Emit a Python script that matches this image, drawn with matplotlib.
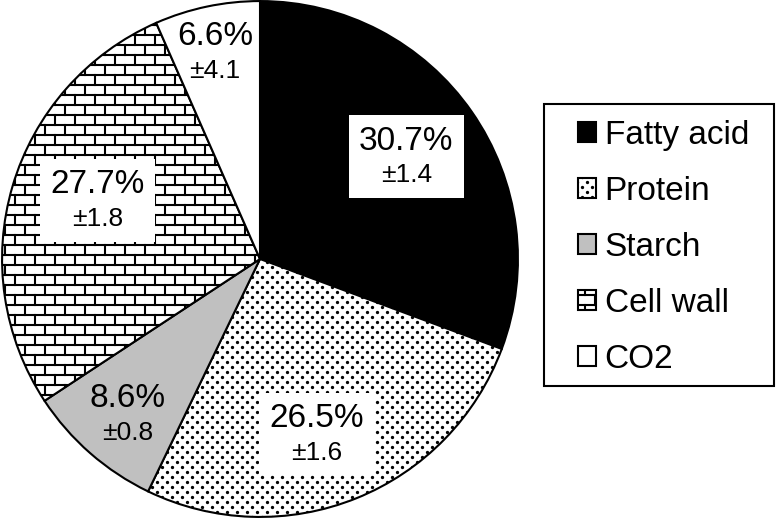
import warnings
import numpy as np
import matplotlib
matplotlib.use('Agg')
import matplotlib.pyplot as plt
import matplotlib.hatch as mhatch
from matplotlib.path import Path
from matplotlib.patches import Rectangle
from matplotlib.offsetbox import TextArea, VPacker, AnnotationBbox

warnings.filterwarnings('ignore')

Names     = ['Fatty acid', 'Protein', 'Starch', 'Cell wall', 'CO2']
Values    = [30.7, 26.5, 8.6, 27.7, 6.6]
Errors    = [1.4, 1.6, 0.8, 1.8, 4.1]
Colors    = ['black', 'white', '#c0c0c0', 'white', 'white']
Hatches   = [None, ':', None, 'B', None]

# label placement (radius as fraction, angle in degrees), white box or not
LabelR    = [0.693, 0.713, 0.79, 0.67, 0.82]
LabelAng  = [35, -72, -130.4, 160.2, 102.3]
LabelBox  = [True, True, False, True, False]


# brick pattern, 10 rows x 5 bricks per hatch tile
class BrickHatch(mhatch.HatchPatternBase):
	rows = 10
	cols = 5

	def __init__(self, hatch, density):
		on = hatch is not None and 'B' in hatch
		nseg = self.rows + self.rows*self.cols + self.cols
		self.num_vertices = 2*nseg if on else 0

	def set_vertices_and_codes(self, vertices, codes):
		h = 1.0/self.rows
		w = 1.0/self.cols
		segs = []
		for i in range(self.rows):
			y0 = h/2 + i*h
			segs.append(((0, y0), (1, y0)))
			off = w/4 if i % 2 == 0 else 3*w/4
			for j in range(self.cols):
				x = off + j*w
				segs.append(((x, y0), (x, y0 + h)))
		off = w/4 if (self.rows-1) % 2 == 0 else 3*w/4
		for j in range(self.cols):
			x = off + j*w
			segs.append(((x, -h/2), (x, h/2)))
		vertices[:] = np.array(segs).reshape(-1, 2)
		codes[0::2] = Path.MOVETO
		codes[1::2] = Path.LINETO


# staggered small dots
class DotHatch(mhatch.HatchPatternBase):
	rows = 20
	cols = 10
	size = 0.006

	def __init__(self, hatch, density):
		on = hatch is not None and ':' in hatch
		self.circle = Path.unit_circle()
		n = len(self.circle.vertices)
		self.num_vertices = n*self.rows*self.cols if on else 0

	def set_vertices_and_codes(self, vertices, codes):
		cv = self.circle.vertices*self.size
		cc = self.circle.codes
		n = len(cv)
		k = 0
		for i in range(self.rows):
			y = 0.025 + i*0.05
			for j in range(self.cols):
				x = 0.025 + j*0.1 + (0.05 if i % 2 else 0)
				vertices[k:k+n] = cv + (x, y)
				codes[k:k+n] = cc
				k += n


mhatch._hatch_types.append(BrickHatch)
mhatch._hatch_types.append(DotHatch)

plt.rcParams['font.family'] = 'Liberation Sans'
plt.rcParams['hatch.linewidth'] = 1.5
plt.rcParams['hatch.color'] = 'black'

W, H = 778, 519
fig = plt.figure(figsize=(W/100, H/100), dpi=100)
ax  = fig.add_axes([0/W, 0/H, 520/W, 520/H])

wedges, _ = ax.pie(Values, colors=Colors, startangle=90, counterclock=False,
                   wedgeprops=dict(edgecolor='black', linewidth=1.5))
for w, h in zip(wedges, Hatches):
	if h is not None:
		w.set_hatch(h)

ax.set_xlim(-1.008, 1.008)
ax.set_ylim(-1.008, 1.008)
ax.set_aspect('equal')
ax.axis('off')

for val, err, r, ang, boxed in zip(Values, Errors, LabelR, LabelAng, LabelBox):
	a  = np.deg2rad(ang)
	xy = (r*np.cos(a), r*np.sin(a))
	t1 = TextArea('{:.1f}%'.format(val), textprops=dict(fontsize=24, color='black'))
	t2 = TextArea('\u00b1{:.1f}'.format(err), textprops=dict(fontsize=19, color='black'))
	box = VPacker(children=[t1, t2], align='center', pad=0, sep=5)
	ab = AnnotationBbox(box, xy, xycoords='data', frameon=boxed, pad=0.75, fontsize=10,
	                    bboxprops=dict(facecolor='white', edgecolor='none'))
	ax.add_artist(ab)

# legend frame drawn on its own, legend itself without frame
fig.patches.append(Rectangle((544/W, 1 - 386/H), 230/W, 282/H, transform=fig.transFigure,
                             facecolor='white', edgecolor='black', linewidth=1.5, zorder=0))

leg = fig.legend(wedges, Names, loc='upper left', bbox_to_anchor=(578/W, 1 - 120/H),
                 fontsize=24, frameon=False,
                 handlelength=0.55, handleheight=0.55, handletextpad=0.25,
                 labelspacing=0.75, borderpad=0, borderaxespad=0)

plt.savefig('out.png', dpi=100)
